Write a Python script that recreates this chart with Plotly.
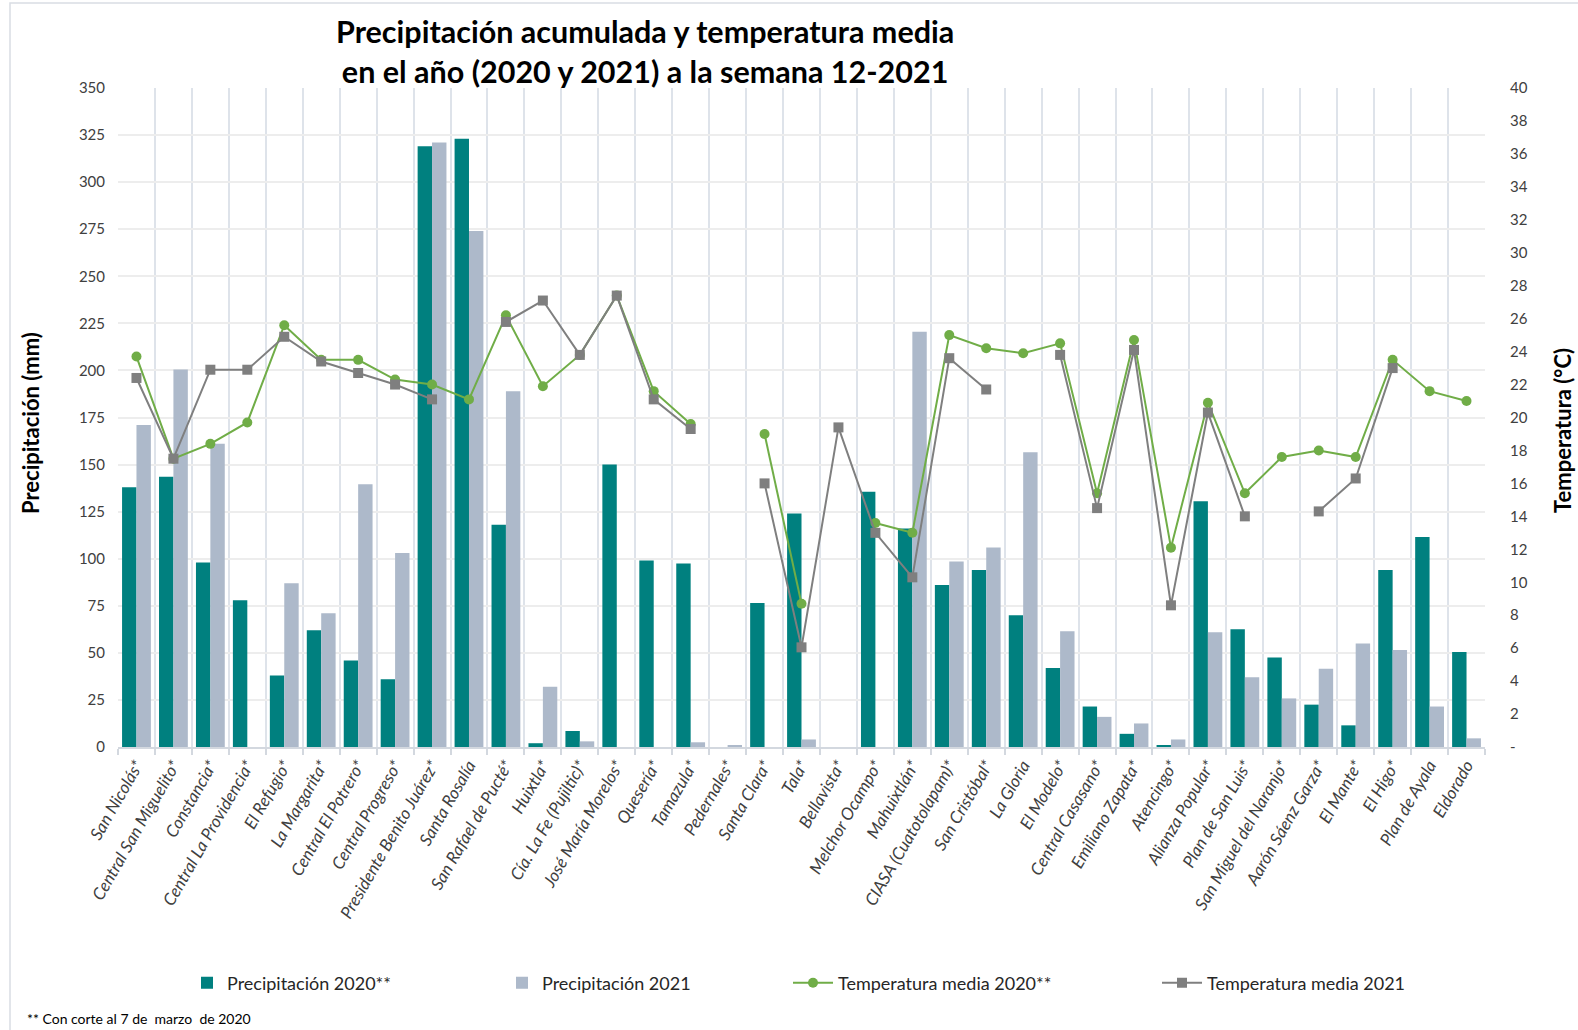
import plotly.graph_objects as go

categories = [
    "San Nicolás*", "Central San Miguelito*", "Constancia*", "Central La Providencia*",
    "El Refugio*", "La Margarita*", "Central El Potrero*", "Central Progreso*",
    "Presidente Benito Juárez*", "Santa Rosalía", "San Rafael de Pucté*", "Huixtla*",
    "Cía. La Fe (Pujiltic)*", "José María Morelos*", "Quesería*", "Tamazula*",
    "Pedernales*", "Santa Clara*", "Tala*", "Bellavista*", "Melchor Ocampo*",
    "Mahuixtlán*", "CIASA (Cuatotolapam)*", "San Cristóbal*", "La Gloria",
    "El Modelo*", "Central Casasano*", "Emiliano Zapata*", "Atencingo*",
    "Alianza Popular*", "Plan de San Luis*", "San Miguel del Naranjo*",
    "Aarón Sáenz Garza*", "El Mante*", "El Higo*", "Plan de Ayala", "Eldorado",
]

precip_2020 = [138, 143.5, 98, 78, 38, 62, 46, 36, 319, 323, 118, 2, 8.5, 150, 99, 97.5,
               0, 76.5, 124, 0, 135.5, 116, 86, 94, 70, 42, 21.5, 7, 1, 130.5, 62.5, 47.5,
               22.5, 11.5, 94, 111.5, 50.5]

precip_2021 = [171, 200.5, 161, 0, 87, 71, 139.5, 103, 321, 274, 189, 32, 3, 0, 0, 2.5,
               1, 0, 4, 0, 0, 220.5, 98.5, 106, 156.5, 61.5, 16, 12.5, 4, 61, 37, 25.8,
               41.5, 55, 51.5, 21.5, 4.6]

temp_2020 = [23.7, 17.5, 18.4, 19.7, 25.6, 23.5, 23.5, 22.3, 22.0, 21.1, 26.2, 21.9, 23.8,
             27.4, 21.6, 19.6, None, 19.0, 8.7, None, 13.6, 13.0, 25.0, 24.2, 23.9, 24.5,
             15.4, 24.7, 12.1, 20.9, 15.4, 17.6, 18.0, 17.6, 23.5, 21.6, 21.0]

temp_2021 = [22.4, 17.5, 22.9, 22.9, 24.9, 23.4, 22.7, 22.0, 21.1, None, 25.8, 27.1, 23.8,
             27.4, 21.1, 19.3, None, 16.0, 6.05, 19.4, 13.0, 10.3, 23.6, 21.7, None, 23.8,
             14.5, 24.1, 8.6, 20.3, 14.0, None, 14.3, 16.3, 23.0, None, None]

left_ticks = list(range(0, 351, 25))
right_ticks = list(range(0, 41, 2))
right_ticktext = ["-"] + [str(v) for v in right_ticks[1:]]

title_text = "Precipitación acumulada y temperatura media<br>en el año (2020 y 2021) a la semana 12-2021"
footnote = "** Con corte al 7 de  marzo  de 2020"

W, H = 1578, 1030
L, R, T, B = 118, 1485, 88, 747


def px_x(px):
    return (px - L) / (R - L)


def px_y(py):
    return (B - py) / (B - T)


FONT = "Lato"
TEAL = "#00807F"
BLUEGRAY = "#ADB9CA"
GREEN = "#70AD47"
GRAY = "#7F7F7F"

fig = go.Figure()
fig.add_trace(go.Bar(x=categories, y=precip_2020, name="Precipitación 2020**",
                     marker=dict(color=TEAL, line=dict(width=0)), legend="legend"))
fig.add_trace(go.Bar(x=categories, y=precip_2021, name="Precipitación 2021",
                     marker=dict(color=BLUEGRAY, line=dict(width=0)), legend="legend2"))
fig.add_trace(go.Scatter(x=categories, y=temp_2020, name="Temperatura media 2020**",
                         mode="lines+markers", yaxis="y2", connectgaps=False,
                         line=dict(color=GREEN, width=2),
                         marker=dict(symbol="circle", size=10, color=GREEN),
                         legend="legend3"))
fig.add_trace(go.Scatter(x=categories, y=temp_2021, name="Temperatura media 2021",
                         mode="lines+markers", yaxis="y2", connectgaps=False,
                         line=dict(color=GRAY, width=2),
                         marker=dict(symbol="square", size=10, color=GRAY),
                         legend="legend4"))

legend_font = dict(family=FONT, size=18, color="#262626")
leg_y = px_y(983)


def leg(xpx, itemwidth=30):
    return dict(x=px_x(xpx), y=leg_y, xanchor="left", yanchor="middle",
                orientation="h", font=legend_font, bgcolor="rgba(0,0,0,0)",
                itemwidth=itemwidth)


fig.update_layout(
    width=W, height=H, autosize=False,
    margin=dict(l=L, r=W - R, t=T, b=H - B, pad=0),
    paper_bgcolor="white", plot_bgcolor="white",
    barmode="group", bargap=0.22, bargroupgap=0.0,
    xaxis=dict(type="category", range=[-0.5, len(categories) - 0.5],
               tickson="boundaries", showgrid=True, gridcolor="#DEE3EA", gridwidth=1.5,
               ticks="outside", ticklen=6, tickcolor="#D3D8DF", tickwidth=1.5,
               showline=True, linecolor="#D3D8DF", linewidth=1.5,
               tickangle=-60,
               tickfont=dict(family=FONT, size=17, color="#404040", style="italic")),
    yaxis=dict(range=[0, 350], tickvals=left_ticks, showgrid=True, gridcolor="#EDEDED",
               gridwidth=1.5, zeroline=False, ticks="", ticklabelstandoff=12,
               tickfont=dict(family=FONT, size=15, color="#404040")),
    yaxis2=dict(range=[0, 40], overlaying="y", side="right", tickvals=right_ticks,
                ticktext=right_ticktext, showgrid=False, zeroline=False, ticks="",
                ticklabelstandoff=24,
                tickfont=dict(family=FONT, size=15, color="#404040")),
    legend=leg(187), legend2=leg(502), legend3=leg(788, 40), legend4=leg(1157, 40),
    showlegend=True,
    annotations=[
        dict(text=title_text, x=px_x(645), y=px_y(11), xref="paper", yref="paper",
             showarrow=False, xanchor="center", yanchor="top", align="center",
             font=dict(family=FONT, size=30.5, color="black", weight="bold")),
        dict(text="Precipitación (mm)", x=px_x(30), y=px_y(423), xref="paper", yref="paper",
             textangle=-90, showarrow=False, xanchor="center", yanchor="middle",
             font=dict(family=FONT, size=22, color="black", weight="bold")),
        dict(text="Temperatura (°C)", x=px_x(1562), y=px_y(431), xref="paper", yref="paper",
             textangle=-90, showarrow=False, xanchor="center", yanchor="middle",
             font=dict(family=FONT, size=22, color="black", weight="bold")),
        dict(text=footnote, x=px_x(25), y=px_y(1018), xref="paper", yref="paper",
             showarrow=False, xanchor="left", yanchor="middle",
             font=dict(family=FONT, size=14, color="black")),
    ],
    shapes=[
        dict(type="rect", xref="paper", yref="paper",
             x0=px_x(10), x1=px_x(1600), y0=px_y(1060), y1=px_y(3),
             line=dict(color="#D9DDE4", width=1.5), fillcolor="rgba(0,0,0,0)", layer="below"),
    ],
)

fig.write_html("out.html", config={"displayModeBar": False},
               post_script="document.body.style.margin='0';document.body.style.overflow='hidden';")
